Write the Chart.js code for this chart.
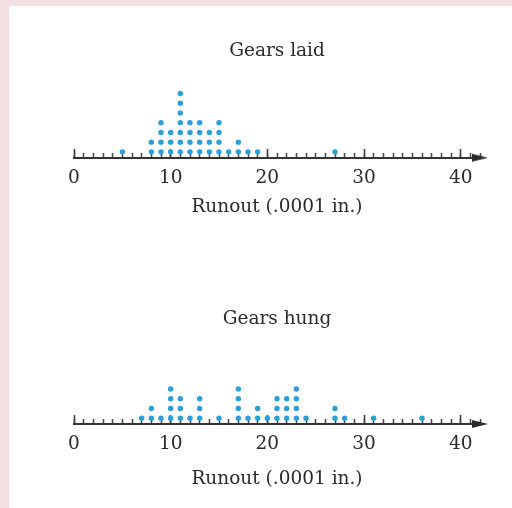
<!DOCTYPE html>
<html>
<head>
<meta charset="utf-8">
<script src="https://cdn.jsdelivr.net/npm/chart.js@4/dist/chart.umd.min.js"></script>
<style>
    html, body { margin: 0; padding: 0; background: #f4e0e3; }
    #panel { position: absolute; left: 9px; top: 6px; width: 503px; height: 502px; background: #ffffff; }
    .box { position: relative; width: 503px; height: 251px; }
</style>
</head>
<body>
<div id="panel">
    <div class="box"><canvas id="laidChart" width="503" height="251"></canvas></div>
    <div class="box"><canvas id="hungChart" width="503" height="251"></canvas></div>
</div>
<script>
// Runout values (.0001 in.) and how many gears had each value
const laidValues = [5, 8, 9, 10, 11, 12, 13, 14, 15, 16, 17, 18, 19, 27];
const laidCounts = [1, 2, 4, 3, 7, 4, 4, 3, 4, 1, 2, 1, 1, 1];

const hungValues = [7, 8, 9, 10, 11, 12, 13, 15, 17, 18, 19, 20, 21, 22, 23, 24, 27, 28, 31, 36];
const hungCounts = [1, 2, 1, 4, 3, 1, 3, 1, 4, 1, 2, 1, 3, 3, 4, 1, 2, 1, 1, 1];

const axisMin = 0;
const axisMax = 42;
const majorStep = 10;
const minorStep = 1;

const fontFamily = '"DejaVu Serif", "Liberation Serif", serif';
const textColor = '#2b2b2b';
const dotColor = '#2a9fd8';
const axisLevel = -0.6; // y value where the number line sits, just under the first dot

// Stack each value into a column of dots
function stackDots(values, counts) {
    const points = [];
    values.forEach((v, i) => {
        for (let k = 0; k < counts[i]; k++) {
            points.push({ x: v, y: k });
        }
    });
    return points;
}

// Small arrowhead used as the point style at the end of the axis
function makeArrow() {
    const c = document.createElement('canvas');
    c.width = 16;
    c.height = 10;
    const ctx = c.getContext('2d');
    ctx.fillStyle = '#2b2b2b';
    ctx.beginPath();
    ctx.moveTo(0, 1);
    ctx.lineTo(16, 5);
    ctx.lineTo(0, 9);
    ctx.closePath();
    ctx.fill();
    return c;
}

function createDotPlot(canvasId, title, values, counts, pad) {
    const ctx = document.getElementById(canvasId);
    return new Chart(ctx, {
        type: 'scatter',
        data: {
            datasets: [
                {
                    data: stackDots(values, counts),
                    backgroundColor: dotColor,
                    borderWidth: 0,
                    pointRadius: 2.7,
                    pointHoverRadius: 2.7,
                },
                {
                    data: [{ x: axisMax, y: axisLevel }],
                    pointStyle: makeArrow(),
                    clip: false,
                },
            ],
        },
        options: {
            responsive: false,
            animation: false,
            events: [],
            layout: {
                padding: { left: 65, right: 32, top: 0, bottom: 0 },
            },
            scales: {
                y: {
                    display: false,
                    min: axisLevel,
                    max: 8,
                },
                // long ticks with labels every 10 (negative length = drawn upward)
                x: {
                    type: 'linear',
                    position: { y: axisLevel },
                    min: axisMin,
                    max: axisMax,
                    z: 1,
                    border: { display: true, color: '#333333', width: 2 },
                    grid: {
                        drawOnChartArea: false,
                        drawTicks: true,
                        tickLength: -10,
                        tickColor: '#333333',
                        tickWidth: 1.5,
                    },
                    ticks: {
                        stepSize: majorStep,
                        includeBounds: false,
                        autoSkip: false,
                        maxRotation: 0,
                        padding: 19.5,
                        color: textColor,
                        font: { family: fontFamily, size: 18.5 },
                    },
                },
                // short ticks every unit
                xMinor: {
                    type: 'linear',
                    axis: 'x',
                    position: { y: axisLevel },
                    min: axisMin,
                    max: axisMax,
                    z: 1,
                    border: { display: false },
                    grid: {
                        drawOnChartArea: false,
                        drawTicks: true,
                        tickLength: -5,
                        tickColor: '#444444',
                        tickWidth: 1.5,
                    },
                    ticks: {
                        display: false,
                        stepSize: minorStep,
                        includeBounds: false,
                    },
                },
            },
            plugins: {
                legend: { display: false },
                tooltip: { enabled: false },
                title: {
                    display: true,
                    text: title,
                    color: textColor,
                    font: { family: fontFamily, size: 18.5, weight: 'normal' },
                    padding: { top: pad.titleTop, bottom: pad.titleBottom },
                },
                subtitle: {
                    display: true,
                    position: 'bottom',
                    text: 'Runout (.0001 in.)',
                    color: textColor,
                    font: { family: fontFamily, size: 18.5, weight: 'normal' },
                    padding: { top: pad.labelTop, bottom: pad.labelBottom },
                },
            },
        },
    });
}

createDotPlot('laidChart', 'Gears laid', laidValues, laidCounts,
    { titleTop: 34, titleBottom: 11.8, labelTop: 38.5, labelBottom: 38.6 });
createDotPlot('hungChart', 'Gears hung', hungValues, hungCounts,
    { titleTop: 51.5, titleBottom: 9.6, labelTop: 44.5, labelBottom: 17.3 });
</script>
</body>
</html>
